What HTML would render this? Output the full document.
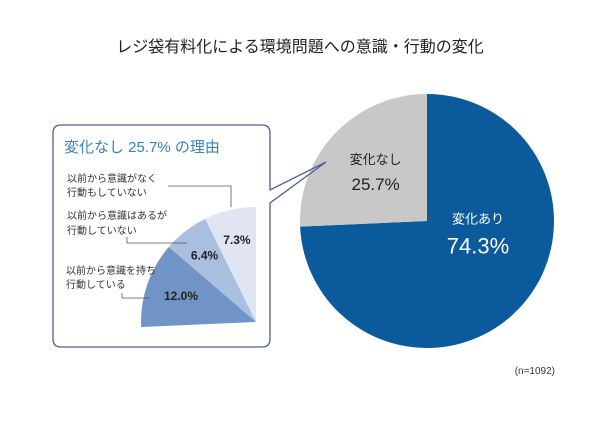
<!DOCTYPE html>
<html><head><meta charset="utf-8">
<style>
html,body{margin:0;padding:0;background:#fff;}
svg{display:block;font-family:"Liberation Sans","Noto Sans CJK JP",sans-serif;}
</style></head>
<body>
<svg id="chart" width="600" height="425" viewBox="0 0 600 425">
<text x="300" y="52" text-anchor="middle" font-size="16" fill="#222">レジ袋有料化による環境問題への意識・行動の変化</text>
<g id="main"></g>
<path d="M61,125 H262 Q270,125 270,133 V190 L326,162 L270,203 V339 Q270,347 262,347 H61 Q53,347 53,339 V133 Q53,125 61,125 Z" fill="none" stroke="#4e5f93" stroke-width="1.3"/>
<text x="64" y="152" font-size="15" fill="#3a82b8">変化なし 25.7% の理由</text>
<g id="sub"></g>
<g fill="none" stroke="#555" stroke-width="0.8">
<polyline points="168,186 231,186 231,207"/>
<polyline points="127,237 127,243 187,243"/>
<polyline points="122,293 122,298 150,298"/>
</g>
<g font-size="10" fill="#333">
<text x="67" y="182">以前から意識がなく</text>
<text x="67" y="196">行動もしていない</text>
<text x="67" y="219">以前から意識はあるが</text>
<text x="67" y="234">行動していない</text>
<text x="66" y="274">以前から意識を持ち</text>
<text x="66" y="288">行動している</text>
</g>
<text x="555" y="374" text-anchor="end" font-size="10" fill="#333">(n=1092)</text>
</svg>
<script>
const mainCategories = ["変化あり", "変化なし"];
const mainValues = [74.3, 25.7];
const subCategories = ["以前から意識がなく行動もしていない", "以前から意識はあるが行動していない", "以前から意識を持ち行動している"];
const subValues = [7.3, 6.4, 12.0];
const NS = "http://www.w3.org/2000/svg";
function pt(cx, cy, r, deg){const a=(deg-90)*Math.PI/180;return [cx+r*Math.cos(a), cy+r*Math.sin(a)];}
function arc(cx,cy,r,a0,a1){
  const s=pt(cx,cy,r,a0), e=pt(cx,cy,r,a1);
  const large=Math.abs(a1-a0)>180?1:0, sweep=a1>a0?1:0;
  return `M${cx},${cy} L${s[0]},${s[1]} A${r},${r} 0 ${large} ${sweep} ${e[0]},${e[1]} Z`;
}
const mg=document.getElementById('main');
const mcx=427, mcy=221, mr=127;
const mColors=["#0a5a9c","#c8c8c8"];
let acc=0;
mainValues.forEach((v,i)=>{
  const a0=acc*3.6, a1=(acc+v)*3.6; acc+=v;
  const p=document.createElementNS(NS,'path');
  p.setAttribute('d',arc(mcx,mcy,mr,a0,a1));
  p.setAttribute('fill',mColors[i]);
  
  
  mg.appendChild(p);
  const mid=(a0+a1)/2;
  const c = i===0 ? pt(mcx,mcy,mr*0.41,mid-32) : pt(mcx,mcy,mr*0.56,mid);
  const t1=document.createElementNS(NS,'text');
  t1.setAttribute('x',c[0]);t1.setAttribute('y',c[1]-8);
  t1.setAttribute('text-anchor','middle');t1.setAttribute('font-size','13');
  t1.setAttribute('fill',i===0?'#fff':'#222');t1.textContent=mainCategories[i];
  
  
  mg.appendChild(t1);
  const t2=document.createElementNS(NS,'text');
  t2.setAttribute('x',c[0]);t2.setAttribute('y',c[1]+(i===0?22:18));
  t2.setAttribute('text-anchor','middle');t2.setAttribute('font-size',i===0?'22':'17');
  t2.setAttribute('fill',i===0?'#fff':'#222');t2.textContent=v.toFixed(1)+'%';
  
  
  mg.appendChild(t2);
});
const sg=document.getElementById('sub');
const scx=256, scy=322, sr=115;
const sColors=["#dfe6f2","#a9bfdf","#6f94c5"];
const lblR=[0.73,0.73,0.69];
let sacc=0;
subValues.forEach((v,i)=>{
  const a0=360-sacc*3.6, a1=360-(sacc+v)*3.6; sacc+=v;
  const p=document.createElementNS(NS,'path');
  p.setAttribute('d',arc(scx,scy,sr,a0,a1));
  p.setAttribute('fill',sColors[i]);
  
  
  sg.appendChild(p);
  const c=pt(scx,scy,sr*lblR[i],(a0+a1)/2);
  const t=document.createElementNS(NS,'text');
  t.setAttribute('x',c[0]);t.setAttribute('y',c[1]+4);
  t.setAttribute('text-anchor','middle');t.setAttribute('font-size','12');
  t.setAttribute('font-weight','bold');
  t.setAttribute('fill','#222');t.textContent=v.toFixed(1)+'%';
  
  
  sg.appendChild(t);
});
</script>
</body></html>
